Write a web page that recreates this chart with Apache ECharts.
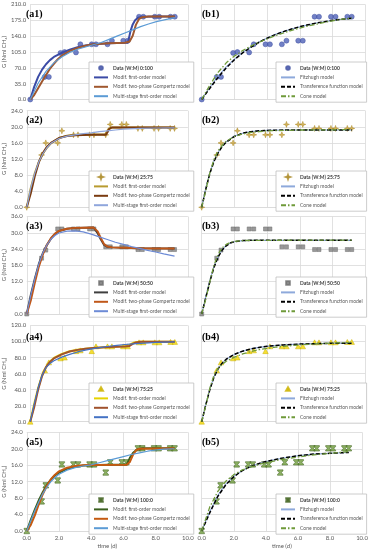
<!DOCTYPE html>
<html><head><meta charset="utf-8">
<script src="https://cdn.jsdelivr.net/npm/echarts@6/dist/echarts.min.js"></script>
<style>html,body{margin:0;padding:0;background:#fff}#c{width:371px;height:550px}</style>
</head><body><div id="c"></div>
<script>
// ---- measurement times (d) ----
const T = [0, 0.92, 1.18, 1.92, 2.18, 2.9, 3.18, 3.9, 4.17, 4.9, 5.18, 5.9, 6.18, 6.9, 7.17, 7.9, 8.18, 8.9, 9.17];

// ---- measured data G (Nml CH4) ----
const dataA1 = [0, 50, 50, 103, 105, 104, 122, 122, 122, 122, 130, 130, 130, 183, 183, 183, 183, 183, 183];
const dataA2 = [0, 13, 16, 16, 19, 18, 18, 18, 18, 18, 20.6, 20.6, 20.6, 19.6, 19.6, 19.6, 19.6, 19.6, 19.6];
const dataA3 = [0, 20.6, 23.6, 31.4, 31.4, 31.4, 31.4, 31.4, 31.4, 24.8, 24.8, 24.8, 24.8, 23.8, 23.8, 23.8, 23.8, 23.8, 23.8];
const dataA4 = [0, 64, 74, 79, 80, 88, 89, 88, 94, 94, 94, 94, 94, 99, 99, 99, 99, 99.5, 99.5];
const dataA5 = [0, 7.2, 11.1, 12.3, 16.2, 16.2, 16.2, 16.2, 16.2, 14.2, 16.7, 16.7, 16.7, 20.1, 20.1, 20.1, 20.1, 20.1, 20.1];

const dataLabels = ['Data (W:M) 0:100', 'Data (W:M) 25:75', 'Data (W:M) 50:50', 'Data (W:M) 75:25', 'Data (W:M) 100:0'];

// ---- y axis ranges ----
const yMax = [210, 24, 36, 120, 24];
const yStep = [35, 4, 6, 20, 4];

// ---- model curves, [t, G] ----
const a1First = [[0,0],[0.25,28],[0.5,50],[0.75,66],[1,78],[1.25,87],[1.5,94],[2,103],[2.5,110],[3,115.5],[3.5,119.5],[4,122],[4.5,123.5],[5,124.5],[5.5,125],[6.2,125.5],[6.35,150],[6.5,166],[6.65,175],[6.85,181],[7.1,183],[8,183.5],[9.17,183.5]];
const a1Gomp = [[0,0],[0.25,10],[0.5,25],[0.75,40],[1,54],[1.25,68],[1.5,79],[1.75,89],[2,97],[2.5,107],[3,114],[3.5,119],[4,122],[5,124.5],[6,125.5],[6.3,128],[6.5,141],[6.7,165],[6.9,178],[7.1,182],[7.5,183.5],[9.17,183.5]];
const a1Multi = [[0,0],[0.5,36],[1,62],[1.5,81],[2,94],[2.5,104],[3,111],[3.5,116],[4,121],[4.5,126],[5,133],[5.5,140],[6,147],[6.5,154],[7,161],[7.5,167],[8,172],[8.5,176],[9.17,181]];

const a2First = [[0,0],[0.25,4.8],[0.5,8.5],[0.75,11.3],[1,13.3],[1.25,14.8],[1.5,15.9],[2,17.2],[2.5,17.8],[3,18],[4,18.1],[4.9,18.1],[5.0,19],[5.1,19.6],[5.3,19.8],[6,19.8],[9.17,19.8]];
const a2Gomp = [[0,0],[0.25,3.5],[0.5,7.8],[0.75,11.2],[1,13.5],[1.25,15],[1.5,16],[2,17.2],[2.5,17.7],[3,17.9],[4,18],[4.9,18],[5.0,18.6],[5.1,19.4],[5.25,19.8],[6,19.8],[9.17,19.8]];
const a2Multi = [[0,0],[0.25,4.8],[0.5,8.5],[0.75,11.3],[1,13.3],[1.25,14.8],[1.5,15.9],[2,17.1],[2.5,17.7],[3,18],[3.5,18.3],[4,18.5],[4.5,18.8],[5,19],[5.5,19.2],[6,19.4],[7,19.6],[8,19.7],[9.17,19.75]];

const a3First = [[0,0],[0.25,7],[0.5,13],[0.75,18.5],[1,22.5],[1.25,25.5],[1.5,27.8],[1.75,29.5],[2,30.6],[2.5,31.5],[3,31.8],[4.15,31.9],[4.4,29.8],[4.6,27.5],[4.8,25.5],[5.0,24.8],[5.3,24.6],[6,24.5],[7,24.3],[9.17,24.2]];
const a3Gomp = [[0,0],[0.25,5],[0.5,11.5],[0.75,17.5],[1,22],[1.25,25.5],[1.5,28],[1.75,29.7],[2,30.7],[2.5,31.5],[3,31.8],[4.15,31.9],[4.4,30.5],[4.6,28],[4.8,25.8],[5.0,24.9],[5.3,24.6],[6,24.5],[7,24.3],[9.17,24.2]];
const a3Multi = [[0,0],[0.25,7],[0.5,13],[0.75,18.5],[1,22.5],[1.25,25.5],[1.5,27.6],[1.75,29],[2,29.9],[2.5,30.6],[3,30.7],[3.5,30.3],[4,29.5],[4.5,28.5],[5,27.5],[5.5,26.5],[6,25.7],[6.5,24.9],[7,24.2],[7.5,23.5],[8,22.9],[8.5,22.2],[9.17,21.4]];

const a4First = [[0,0],[0.25,22],[0.5,42],[0.75,58],[1,68],[1.25,75],[1.5,79.5],[2,84.5],[2.5,87.8],[3,89.8],[3.5,91],[4,92],[5,93.3],[6,94],[6.2,94.2],[6.4,97],[6.6,98.8],[6.9,99.6],[7.2,99.8],[9.17,99.8]];
const a4Gomp = [[0,0],[0.25,18],[0.5,40],[0.75,57],[1,68],[1.25,74.5],[1.5,79],[2,84],[2.5,87.5],[3,89.6],[3.5,91],[4,92],[5,93.2],[6,93.9],[6.3,94.5],[6.5,97],[6.7,98.9],[7,99.7],[9.17,99.8]];
const a4Multi = [[0,0],[0.25,22],[0.5,42],[0.75,58],[1,67.5],[1.25,72.5],[1.5,76],[2,80.5],[2.5,84],[3,87],[3.5,89.3],[4,91.2],[4.5,92.8],[5,94.1],[5.5,95.3],[6,96.3],[6.5,97.1],[7,97.8],[7.5,98.4],[8,98.9],[8.5,99.3],[9.17,99.6]];

const a5First = [[0,0],[0.25,2.7],[0.5,5.2],[0.75,7.5],[1,9.5],[1.25,11.2],[1.5,12.5],[1.75,13.5],[2,14.2],[2.5,15.1],[3,15.6],[3.5,15.9],[4,16],[5,16.1],[6.2,16.1],[6.4,17.8],[6.6,19],[6.85,19.8],[7.2,20.1],[9.17,20.1]];
const a5Gomp = [[0,0],[0.25,1.5],[0.5,3.8],[0.75,6.5],[1,9],[1.25,11],[1.5,12.6],[1.75,13.7],[2,14.5],[2.5,15.4],[3,15.8],[3.5,16],[4,16.05],[6.2,16.1],[6.4,16.8],[6.6,18.6],[6.8,19.7],[7,20],[9.17,20.1]];
const a5Multi = [[0,0],[0.25,2.5],[0.5,4.9],[0.75,7.1],[1,9.1],[1.25,10.7],[1.5,12],[1.75,13],[2,13.8],[2.5,14.8],[3,15.4],[3.5,15.8],[4,16.1],[4.5,16.6],[5,17.1],[5.5,17.6],[6,18.1],[6.5,18.6],[7,19],[7.5,19.4],[8,19.7],[8.5,19.9],[9.17,20]];

const b1Fitz = [[0,0],[0.5,27],[1,51],[1.5,72],[2,89],[2.5,104],[3,116],[3.5,127],[4,136],[4.5,144],[5,150],[5.5,156],[6,161],[6.5,165],[7,169],[7.5,172],[8,175],[8.5,177],[9.17,179]];
const b1Trans = [[0,0],[0.5,25],[1,49],[1.5,70],[2,88],[2.5,103],[3,115.5],[3.5,126.5],[4,135.5],[4.5,143.5],[5,150],[5.5,156],[6,161],[6.5,165],[7,169],[7.5,172],[8,175],[8.5,177],[9.17,179.5]];
const b1Cone = [[0,0],[0.5,32],[1,60],[1.5,81],[2,96],[2.5,108],[3,118],[3.5,126.5],[4,134],[4.5,141],[5,147],[5.5,153],[6,158],[6.5,162.5],[7,166.5],[7.5,170.5],[8,174],[8.5,177],[9.17,180]];

const b2Fitz = [[0,0],[0.25,4.8],[0.5,8.6],[0.75,11.5],[1,13.6],[1.25,15.2],[1.5,16.3],[2,17.7],[2.5,18.4],[3,18.8],[3.5,19],[4,19.1],[5,19.2],[9.17,19.2]];
const b2Trans = [[0,0],[0.25,4.5],[0.5,8.4],[0.75,11.4],[1,13.5],[1.25,15.1],[1.5,16.2],[2,17.6],[2.5,18.4],[3,18.8],[3.5,19],[4,19.1],[5,19.2],[9.17,19.2]];
const b2Cone = [[0,0],[0.25,4.2],[0.5,8.6],[0.75,11.9],[1,14],[1.25,15.4],[1.5,16.4],[2,17.6],[2.5,18.2],[3,18.6],[3.5,18.8],[4,19],[5,19.1],[6,19.2],[9.17,19.3]];

const b3Fitz = [[0,0],[0.25,6.5],[0.5,12.5],[0.75,17.5],[1,21.2],[1.25,23.7],[1.5,25.3],[1.75,26.2],[2,26.7],[2.5,27.1],[3,27.2],[9.17,27.2]];
const b3Trans = [[0,0],[0.25,6],[0.5,12],[0.75,17.2],[1,21],[1.25,23.6],[1.5,25.2],[1.75,26.2],[2,26.7],[2.5,27.1],[3,27.2],[9.17,27.2]];
const b3Cone = [[0,0],[0.25,5.5],[0.5,12],[0.75,18],[1,22],[1.25,24.4],[1.5,25.7],[1.75,26.4],[2,26.8],[2.5,27.1],[3,27.2],[9.17,27.3]];

const b4Fitz = [[0,0],[0.25,22],[0.5,41],[0.75,56],[1,66],[1.25,73],[1.5,78],[2,84],[2.5,88],[3,90.8],[3.5,92.7],[4,94],[4.5,95],[5,95.8],[6,96.8],[7,97.4],[8,97.8],[9.17,98]];
const b4Trans = [[0,0],[0.25,21],[0.5,40],[0.75,55.5],[1,66],[1.25,73],[1.5,78],[2,84],[2.5,88],[3,90.8],[3.5,92.7],[4,94],[4.5,95],[5,95.8],[6,96.8],[7,97.4],[8,97.8],[9.17,98]];
const b4Cone = [[0,0],[0.25,20],[0.5,42],[0.75,58],[1,66.5],[1.25,71.5],[1.5,75.5],[2,80.5],[2.5,84.5],[3,87.5],[3.5,89.8],[4,91.5],[4.5,92.9],[5,94],[6,95.8],[7,97.1],[8,98.1],[9.17,99]];

const b5Fitz = [[0,0],[0.5,4.7],[1,8.6],[1.5,11.4],[2,13.3],[2.5,14.6],[3,15.6],[3.5,16.3],[4,16.9],[4.5,17.3],[5,17.7],[5.5,18],[6,18.3],[6.5,18.5],[7,18.7],[8,18.9],[9.17,19.1]];
const b5Trans = [[0,0],[0.5,4.4],[1,8.4],[1.5,11.2],[2,13.2],[2.5,14.6],[3,15.6],[3.5,16.3],[4,16.9],[4.5,17.3],[5,17.7],[5.5,18],[6,18.3],[6.5,18.5],[7,18.7],[8,18.9],[9.17,19.1]];
const b5Cone = [[0,0],[0.5,5.8],[1,9.6],[1.5,12.1],[2,13.7],[2.5,14.8],[3,15.5],[3.5,16.1],[4,16.6],[4.5,17],[5,17.4],[6,18],[7,18.5],[8,18.9],[9.17,19.3]];

const modelNamesA = ['Modif. first-order model', 'Modif. two-phase Gompertz model', 'Multi-stage first-order model'];
const modelNamesB = ['Fitzhugh model', 'Transference function model', 'Cone model'];

// ---- assembly ----
const dataSets = [dataA1, dataA2, dataA3, dataA4, dataA5];
const curvesA = [[a1First,a1Gomp,a1Multi],[a2First,a2Gomp,a2Multi],[a3First,a3Gomp,a3Multi],[a4First,a4Gomp,a4Multi],[a5First,a5Gomp,a5Multi]];
const curvesB = [[b1Fitz,b1Trans,b1Cone],[b2Fitz,b2Trans,b2Cone],[b3Fitz,b3Trans,b3Cone],[b4Fitz,b4Trans,b4Cone],[b5Fitz,b5Trans,b5Cone]];

const FONT = 'Lato, "Liberation Sans", sans-serif';
const rowTop = [4.5, 110.7, 216.5, 325.5, 432.3];
const rowH = [95, 96.6, 97.5, 96.2, 100];
const colLeft = [24.3, 201.7];
const plotW = 163.6;
const legendTop = [62, 171, 277, 383, 494];
const legendLeft = [89, 276];
const labelTop = [9, 115, 221, 332, 437];

const SYM_CIRCLE = 'path://M-10,0 A10,10 0 1,0 10,0 A10,10 0 1,0 -10,0 Z';
const SYM_STAR = 'path://M0,-10 L2.5,-2.5 L10,0 L2.5,2.5 L0,10 L-2.5,2.5 L-10,0 L-2.5,-2.5 Z';
const SYM_SQUARE = 'path://M-10,-10 L10,-10 L10,10 L-10,10 Z';
const SYM_TRI = 'path://M0,-10 L10,8 L-10,8 Z';
const SYM_X = 'path://M-10,-10 L10,-10 L10,-6 L3,0 L10,6 L10,10 L-10,10 L-10,6 L-3,0 L-10,-6 Z';
const markerStyles = [
  {symbol:SYM_CIRCLE, size:5, color:'#4F62B8', border:'#3E4FA0'},
  {symbol:SYM_STAR, size:6, color:'#C8A035', border:'#A8841E'},
  {symbol:SYM_SQUARE, size:4, color:'#7F7F7F', border:'#6A6A6A'},
  {symbol:SYM_TRI, size:5.5, color:'#F2D600', border:'#C9B000'},
  {symbol:SYM_X, size:5.5, color:'#6E9B3A', border:'#3E5F1F'}
];
const lineColorsA = [
  ['#3B4BA6','#A0582F','#5B9BD5'],
  ['#B89B30','#7A3B10','#8FA6DC'],
  ['#3F3F3F','#C0581A','#6D8BD6'],
  ['#E6D300','#A0522D','#4472C4'],
  ['#3A5F1E','#C55A11','#5B9BD5']
];

const grid = [], xAxis = [], yAxis = [], series = [], legend = [], title = [];
for (let r = 0; r < 5; r++) {
  for (let c = 0; c < 2; c++) {
    const i = r * 2 + c;
    const pid = (c === 0 ? 'a' : 'b') + (r + 1);
    grid.push({left: colLeft[c], top: rowTop[r], width: plotW, height: rowH[r]});
    xAxis.push({
      gridIndex: i, type: 'value', min: 0, max: 10, interval: 2,
      axisLine: {show: true, lineStyle: {color: '#D9D9D9', width: 0.8}},
      axisTick: {show: false},
      splitLine: {show: true, lineStyle: {color: '#D9D9D9', width: 0.8}},
      axisLabel: {show: r === 4, formatter: v => v.toFixed(1), fontSize: 6, color: '#595959', margin: 4, fontFamily: FONT},
      name: r === 4 ? 'time (d)' : '', nameLocation: 'middle', nameGap: 12,
      nameTextStyle: {fontSize: 6, color: '#595959', fontFamily: FONT}
    });
    yAxis.push({
      gridIndex: i, type: 'value', min: 0, max: yMax[r], interval: yStep[r],
      axisLine: {show: false}, axisTick: {show: false},
      splitLine: {show: true, lineStyle: {color: '#D9D9D9', width: 0.8}},
      axisLabel: {show: c === 0, formatter: v => v.toFixed(1), fontSize: 6, color: '#595959', margin: 4, fontFamily: FONT},
      name: c === 0 ? 'G (Nml CH\u2084)' : '', nameLocation: 'middle', nameRotate: 90, nameGap: 15,
      nameTextStyle: {fontSize: 6, color: '#595959', fontFamily: FONT}
    });
    const ms = markerStyles[r];
    const dName = pid + '|' + dataLabels[r];
    series.push({
      type: 'scatter', name: dName, xAxisIndex: i, yAxisIndex: i,
      data: T.map((t, k) => [t, dataSets[r][k]]),
      symbol: ms.symbol, symbolSize: ms.size, symbolKeepAspect: true,
      itemStyle: {color: ms.color, borderColor: ms.border, borderWidth: 0.6},
      z: 2
    });
    const names = [dName];
    if (c === 0) {
      const widths = [2, 2, 1.2];
      curvesA[r].forEach((cv, k) => {
        const nm = pid + '|' + modelNamesA[k];
        names.push(nm);
        series.push({
          type: 'line', name: nm, xAxisIndex: i, yAxisIndex: i, data: cv,
          symbol: 'none', showSymbol: false, smooth: false,
          lineStyle: {color: lineColorsA[r][k], width: widths[k]},
          itemStyle: {color: lineColorsA[r][k]}, z: 3
        });
      });
    } else {
      const st = [
        {color: '#8EA9DB', width: 1.1, type: 'solid'},
        {color: '#000000', width: 1.5, type: [4, 2]},
        {color: '#6F9A3A', width: 1.3, type: [5, 2, 1.5, 2]}
      ];
      curvesB[r].forEach((cv, k) => {
        const nm = pid + '|' + modelNamesB[k];
        names.push(nm);
        series.push({
          type: 'line', name: nm, xAxisIndex: i, yAxisIndex: i, data: cv,
          symbol: 'none', showSymbol: false, smooth: false,
          lineStyle: st[k], itemStyle: {color: st[k].color}, z: 3
        });
      });
    }
    legend.push({
      left: legendLeft[c], top: legendTop[r], orient: 'vertical',
      data: names.map((n, k) => k === 0
        ? {name: n, icon: ms.symbol, textStyle: {fontWeight: 'bold', color: '#404040'}}
        : {name: n, itemStyle: {opacity: 0, color: 'rgba(0,0,0,0)', borderWidth: 0}}),
      formatter: n => n.split('|')[1],
      symbolKeepAspect: true,
      itemWidth: 14, itemHeight: 3.6, itemGap: 2.4, padding: [2.5, 4, 2.5, 4],
      textStyle: {fontSize: 5, color: '#595959', fontFamily: FONT, lineHeight: 7},
      borderColor: '#BFBFBF', borderWidth: 0.8, backgroundColor: '#ffffff',
      selectedMode: false, z: 10
    });
    title.push({
      text: '(' + pid + ')', left: c === 0 ? 26 : 202, top: labelTop[r], padding: 0,
      textStyle: {fontFamily: '"Liberation Serif", "DejaVu Serif", serif', fontWeight: 'bold', fontSize: 10, color: '#000'}
    });
  }
}

const chart = echarts.init(document.getElementById('c'), null, {renderer: 'canvas'});
chart.setOption({animation: false, backgroundColor: '#fff', grid, xAxis, yAxis, series, legend, title});
</script></body></html>
